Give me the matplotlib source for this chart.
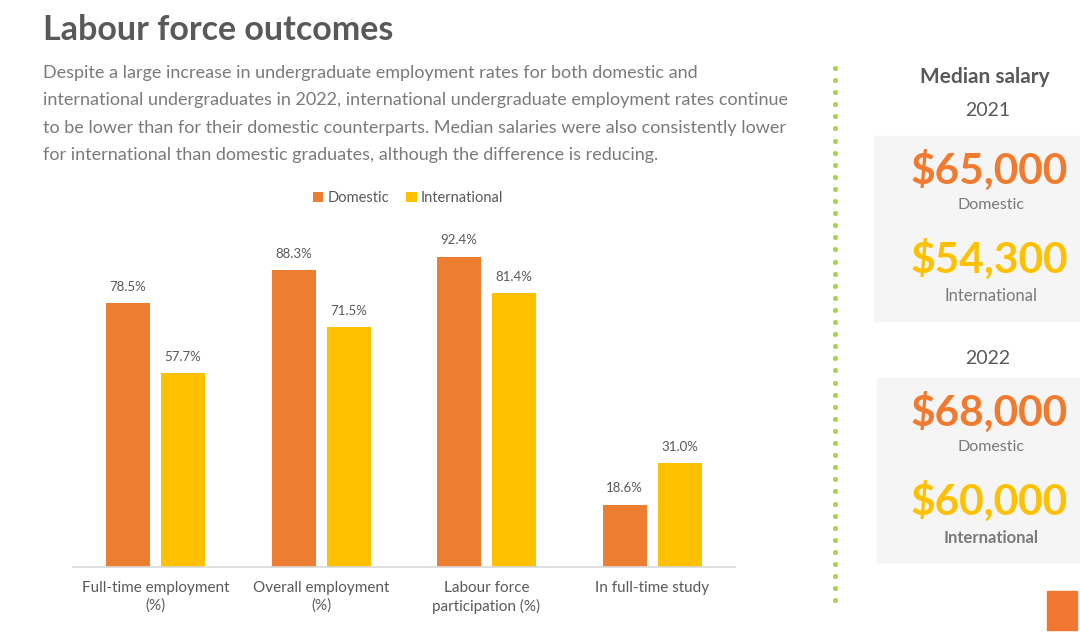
import matplotlib.pyplot as plt
import matplotlib.patches as mpatches
import numpy as np

# data
categories = ['Full-time employment\n(%)', 'Overall employment\n(%)',
              'Labour force\nparticipation (%)', 'In full-time study']
domestic = [78.5, 88.3, 92.4, 18.6]
international = [57.7, 71.5, 81.4, 31.0]
series_names = ['Domestic', 'International']

salary_years = ['2021', '2022']
salary_domestic = ['$65,000', '$68,000']
salary_international = ['$54,300', '$60,000']

title = 'Labour force outcomes'
intro = ('Despite a large increase in undergraduate employment rates for both domestic and\n'
         'international undergraduates in 2022, international undergraduate employment rates continue\n'
         'to be lower than for their domestic counterparts. Median salaries were also consistently lower\n'
         'for international than domestic graduates, although the difference is reducing.')

ORANGE = '#ED7D31'
YELLOW = '#FFC000'
SAL_ORANGE = '#F27A2E'
DARK = '#595959'
GREY = '#7a7a7a'

W, H = 1080, 635
fig = plt.figure(figsize=(W / 100, H / 100), dpi=100)
plt.rcParams['font.family'] = ['Lato', 'DejaVu Sans']


def fx(x):
    return x / W


def fy(y):
    return 1 - y / H


# title and intro text
fig.text(fx(43), fy(30), title, fontsize=24.5, fontweight='bold', color=DARK, va='center')
fig.text(fx(43), fy(65), intro, fontsize=13, color=GREY, va='top', linespacing=1.88)

# bar chart
ax = fig.add_axes([fx(72.75), fy(567), fx(662), (567 - 231) / H])
x = np.arange(len(categories))
bw = 44 / 165.5
off = 27.5 / 165.5
b1 = ax.bar(x - off, domestic, bw, color=ORANGE, label=series_names[0])
b2 = ax.bar(x + off, international, bw, color=YELLOW, label=series_names[1])
for bars, vals in [(b1, domestic), (b2, international)]:
    for b, v in zip(bars, vals):
        ax.text(b.get_x() + b.get_width() / 2, v + 3, f'{v:.1f}%', ha='center', va='bottom',
                fontsize=9.5, color=DARK)
ax.set_xlim(-0.5, 3.5)
ax.set_ylim(0, 100)
ax.set_xticks(x)
ax.set_xticklabels(categories, fontsize=11, color=DARK, linespacing=1.35)
ax.tick_params(axis='x', length=0, pad=10)
ax.set_yticks([])
for s in ['top', 'right', 'left']:
    ax.spines[s].set_visible(False)
ax.spines['bottom'].set_color('#d9d9d9')
ax.spines['bottom'].set_linewidth(1.2)
ax.patch.set_alpha(0)

leg = fig.legend(handles=[b1, b2], loc='center', bbox_to_anchor=(fx(408), fy(198)), ncol=2,
                 frameon=False, fontsize=10.5, handlelength=0.7, handleheight=0.7,
                 handletextpad=0.3, columnspacing=1.2)
for t in leg.get_texts():
    t.set_color(DARK)

# dotted divider
dots_y = np.arange(68, 606, 12.1)
fig.add_artist(plt.Line2D([fx(835)] * len(dots_y), [fy(v) for v in dots_y], ls='none',
                          marker='o', ms=2.6, color='#A8D14F', transform=fig.transFigure))

# salary panel
fig.text(fx(985), fy(77), 'Median salary', fontsize=15, fontweight='bold', color=DARK,
         ha='center', va='center')
boxes = [(874, 136, 321), (877, 378, 562)]
year_y = [110, 358]
for i, (bx, top, bot) in enumerate(boxes):
    fig.text(fx(988), fy(year_y[i]), salary_years[i], fontsize=14, color=DARK,
             ha='center', va='center')
    fig.add_artist(mpatches.Rectangle((fx(bx), fy(bot)), fx(W - bx), (bot - top) / H,
                                      transform=fig.transFigure, color='#f5f5f5', zorder=0))
    dom_y = top + 34
    fig.text(fx(989), fy(dom_y), salary_domestic[i], fontsize=30.5, fontweight='bold',
             color=SAL_ORANGE, ha='center', va='center')
    fig.text(fx(991), fy(dom_y + 35), 'Domestic', fontsize=11.5, color=GREY, ha='center', va='center')
    fig.text(fx(989), fy(dom_y + 89), salary_international[i], fontsize=30.5, fontweight='bold',
             color=YELLOW, ha='center', va='center')
    fig.text(fx(991), fy(dom_y + 126), 'International', fontsize=12, color=GREY,
             ha='center', va='center', fontweight='bold' if i == 1 else 'normal')

# corner square
fig.add_artist(mpatches.Rectangle((fx(1047), fy(630)), fx(30), 39 / H,
                                  transform=fig.transFigure, color='#F07830'))

plt.savefig('out.png', dpi=100)
